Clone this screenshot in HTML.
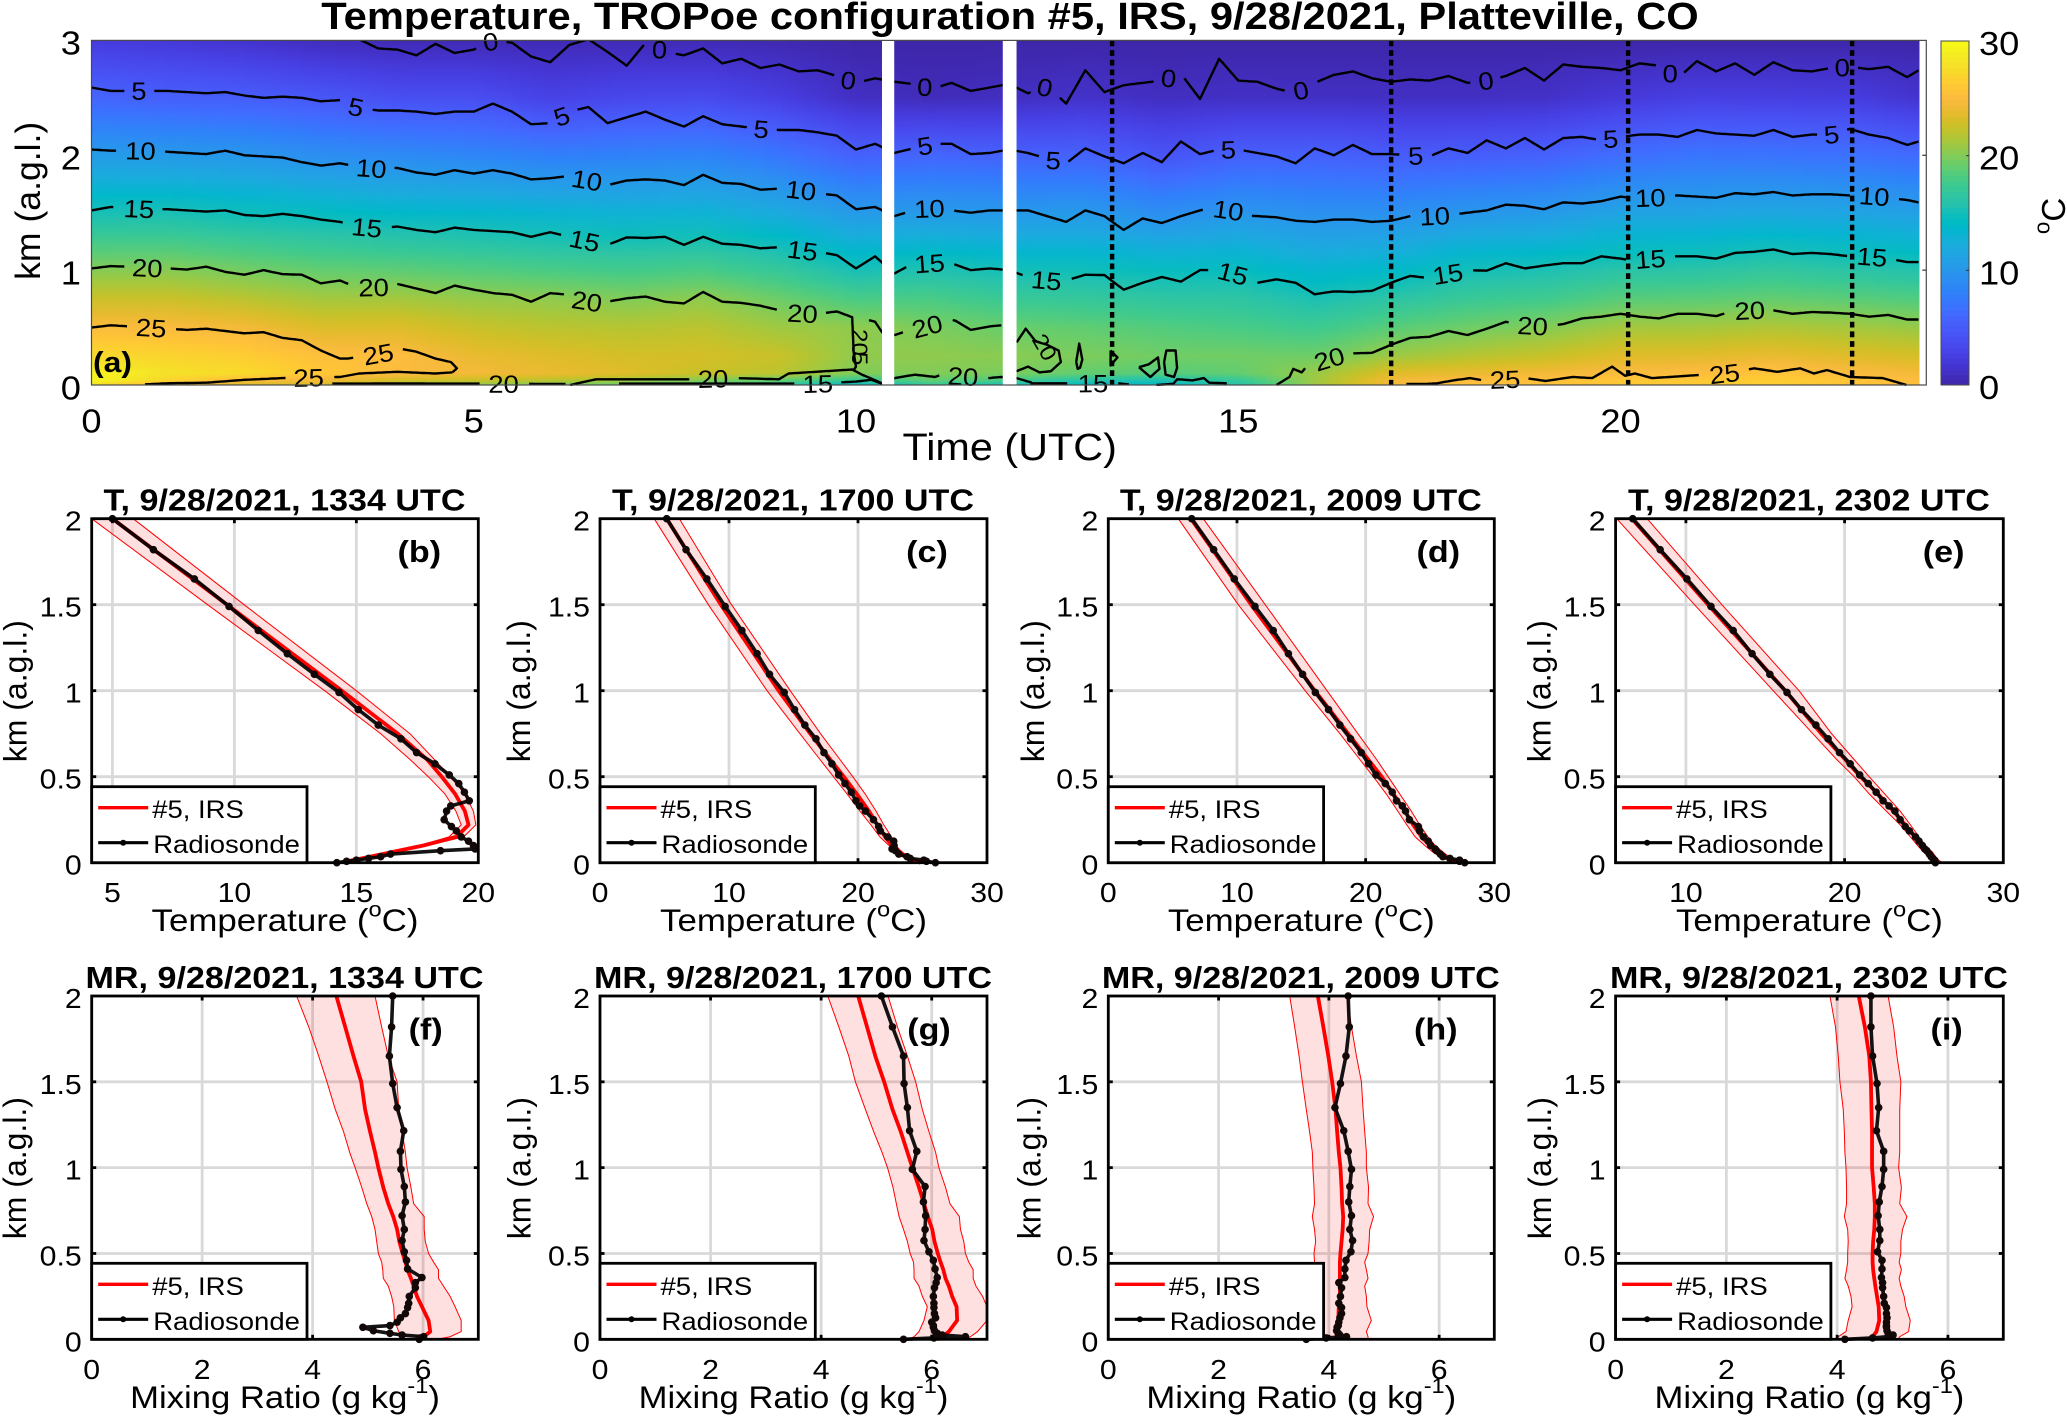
<!DOCTYPE html>
<html lang="en">
<head>
<meta charset="utf-8">
<title>Temperature, TROPoe configuration #5, IRS, 9/28/2021, Platteville, CO</title>
<style>
html,body{margin:0;padding:0;background:#fff;}
svg{display:block;}
text{font-family:"Liberation Sans",Arial,sans-serif;fill:#000;}
</style>
</head>
<body>
<svg id="chart" xmlns="http://www.w3.org/2000/svg" width="2067" height="1417" viewBox="0 0 2067 1417">
<defs id="defs"></defs>
<text transform="translate(1010,29) scale(1.103,1)" text-anchor="middle" font-size="37.8" font-weight="bold">Temperature, TROPoe configuration #5, IRS, 9/28/2021, Platteville, CO</text>
</svg>
<script>
/* ---------- panel (a): heat field ---------- */
const heatTimes = [0,1,2,3,4,5,6,7,8,9,10,11,12,13,14,15,16,17,18,19,20,21,22,23,24];
const heatHeights = [0,0.04,0.1,0.25,0.5,0.75,1,1.5,2,2.5,3];
const heatValues = [
[28,29.5,29.5,27.5,25,22.6,20.2,15.2,10.5,5.8,2.3],
[24.5,27,28,27,24.9,22.6,20.2,15.3,10.3,5.4,2],
[23,25,27.5,26.5,24.5,22,19.6,14.8,10,5.2,1.5],
[23,24.5,26,25.4,23.3,21.2,19,14.4,9.2,4.7,0.8],
[21,23,25,25.2,23.4,21.2,18.8,13.8,8.9,4,0.5],
[20.5,22.5,24.5,24,22.5,20.7,18.4,13.6,8.5,3.9,0.5],
[19.5,22,24,23.5,22,20.5,18,13.2,7.9,2.9,0.5],
[19,21,23.5,23,21.8,20,17.7,12.9,8.1,3.4,0.5],
[18,20,22.5,23,22,20.5,18,13,8.3,3.6,0.5],
[16.5,19,22,22.5,21,19.3,17,12,7.2,2.6,0.3],
[14,17,20,20.5,20.5,18,15.2,10.3,5.5,1.1,0],
[17,19,20,20.5,19.8,18,15.6,10.4,5.9,0.7,0],
[15,18,19.8,20.3,19.2,17.2,15,10.2,5.5,1,0],
[14,16,19,19.9,18.9,16.9,14.9,10.2,5.6,1.4,0],
[14,15.5,18.5,19.5,18.4,16.5,14.5,9.2,4.4,1,0],
[16,17,19,19.5,18,16.4,14.6,10,5.4,1.2,0],
[21,21,20.8,19.4,17.5,15.4,13.4,9.4,5.5,1.1,0],
[24.5,24.5,23.5,21,18.6,16.3,13.9,9.4,5.1,1.1,0],
[25.5,25.2,24,21.8,19.4,17.2,15,10,5.2,1.1,0],
[25.5,25.5,24.5,22.5,20.1,17.6,15.4,10.3,5.5,1.3,0],
[26,26,25,23.5,21.2,18.6,16.1,11.3,6.5,2.1,0],
[26.5,26,25.2,23.6,21.2,18.7,16.2,11.3,7.1,2.7,0],
[26.5,26.5,25.8,24,21.6,19,16.8,11.7,7,2.6,0],
[25.8,25.8,25,23.5,21.2,18.7,16.2,11.4,6.8,2.5,0],
[25,25,24.5,23,20.7,18.2,15.7,10.8,6.2,1.5,0]
];
const parula = [[.2422,.1504,.6603],[.2504,.1650,.7076],[.2578,.1818,.7511],[.2647,.1978,.7952],[.2706,.2147,.8364],[.2751,.2342,.8710],[.2783,.2559,.8991],[.2803,.2782,.9221],[.2813,.3006,.9414],[.2810,.3228,.9579],[.2795,.3447,.9717],[.2760,.3667,.9829],[.2699,.3892,.9906],[.2602,.4123,.9952],[.2440,.4358,.9988],[.2206,.4603,.9973],[.1963,.4847,.9892],[.1834,.5074,.9798],[.1786,.5289,.9682],[.1764,.5499,.9520],[.1687,.5703,.9359],[.1540,.5902,.9218],[.1460,.6091,.9079],[.1380,.6276,.8973],[.1246,.6459,.8883],[.1113,.6635,.8763],[.0952,.6798,.8598],[.0689,.6948,.8394],[.0297,.7082,.8163],[.0036,.7203,.7917],[.0067,.7312,.7660],[.0433,.7411,.7394],[.0964,.7500,.7120],[.1408,.7584,.6842],[.1717,.7670,.6554],[.1938,.7758,.6251],[.2161,.7843,.5923],[.2470,.7918,.5567],[.2906,.7973,.5188],[.3406,.8008,.4789],[.3909,.8029,.4354],[.4456,.8024,.3909],[.5044,.7993,.3480],[.5616,.7942,.3045],[.6174,.7876,.2612],[.6720,.7793,.2227],[.7242,.7698,.1910],[.7738,.7598,.1646],[.8203,.7498,.1535],[.8634,.7406,.1596],[.9035,.7330,.1774],[.9393,.7288,.2100],[.9728,.7298,.2394],[.9956,.7434,.2371],[.9970,.7659,.2199],[.9952,.7893,.2028],[.9892,.8136,.1885],[.9786,.8386,.1766],[.9676,.8639,.1643],[.9610,.8890,.1537],[.9597,.9135,.1423],[.9628,.9373,.1265],[.9691,.9606,.1064],[.9769,.9839,.0805]];

/* ---------- panel (a): contours ---------- */
const gridT = [0,.25,.5,.75,1,1.25,1.5,1.75,2,2.25,2.5,2.75,3,3.25,3.5,3.75,4,4.25,4.5,4.75,5,5.25,5.5,5.75,6,6.25,6.5,6.75,7,7.25,7.5,7.75,8,8.25,8.5,8.75,9,9.25,9.5,9.75,10,10.25,10.5,10.75,11,11.25,11.5,11.75,12,12.25,12.5,12.75,13,13.25,13.5,13.75,14,14.25,14.5,14.75,15,15.25,15.5,15.75,16,16.25,16.5,16.75,17,17.25,17.5,17.75,18,18.25,18.5,18.75,19,19.25,19.5,19.75,20,20.25,20.5,20.75,21,21.25,21.5,21.75,22,22.25,22.5,22.75,23,23.25,23.5,23.75,23.9];
const contour0 = [3.35,3.34,3.32,3.31,3.3,3.27,3.25,3.22,3.2,3.18,3.15,3.12,3.1,3.05,3.01,2.93,2.92,2.87,2.97,2.89,2.92,3.0,2.98,2.86,2.81,2.96,3.01,2.9,2.78,2.98,2.9,2.87,2.93,2.80,2.84,2.76,2.79,2.73,2.74,2.69,2.63,2.67,2.64,2.62,2.58,2.63,2.56,2.59,2.62,2.54,2.60,2.45,2.74,2.55,2.61,2.63,2.65,2.71,2.49,2.84,2.65,2.64,2.58,2.54,2.63,2.70,2.73,2.67,2.64,2.66,2.65,2.69,2.63,2.65,2.69,2.76,2.65,2.79,2.77,2.76,2.74,2.80,2.78,2.67,2.82,2.73,2.80,2.70,2.81,2.74,2.73,2.76,2.77,2.75,2.77,2.68,2.74];
const contour5 = [2.59,2.56,2.56,2.56,2.56,2.55,2.54,2.55,2.52,2.50,2.51,2.50,2.47,2.48,2.41,2.39,2.39,2.38,2.36,2.38,2.38,2.45,2.38,2.27,2.28,2.38,2.42,2.28,2.33,2.38,2.31,2.25,2.34,2.27,2.25,2.23,2.22,2.22,2.20,2.17,2.05,2.10,2.02,2.06,2.10,2.10,2.01,2.02,2.05,2.02,1.97,1.93,2.06,1.99,1.93,2.02,1.94,2.12,2.01,2.05,2.05,2.02,1.99,1.93,2.06,2.0,2.09,2.01,2.01,2.0,1.99,2.06,2.02,2.13,2.06,2.15,2.05,2.15,2.16,2.13,2.16,2.18,2.18,2.16,2.22,2.19,2.18,2.17,2.22,2.16,2.18,2.18,2.23,2.18,2.15,2.09,2.12];
const contour10 = [2.05,2.04,2.04,2.04,2.03,2.02,2.01,2.04,2.0,1.99,1.98,1.94,1.91,1.93,1.90,1.88,1.89,1.85,1.83,1.87,1.84,1.87,1.84,1.79,1.80,1.82,1.78,1.74,1.78,1.79,1.78,1.74,1.83,1.76,1.75,1.70,1.71,1.70,1.67,1.65,1.53,1.55,1.47,1.52,1.54,1.52,1.50,1.52,1.52,1.52,1.47,1.42,1.52,1.47,1.35,1.45,1.41,1.47,1.52,1.56,1.48,1.47,1.46,1.43,1.42,1.44,1.44,1.42,1.43,1.47,1.47,1.48,1.50,1.52,1.57,1.56,1.53,1.59,1.58,1.60,1.64,1.62,1.64,1.65,1.64,1.63,1.67,1.66,1.68,1.65,1.66,1.66,1.65,1.65,1.63,1.61,1.59];
const contour15 = [1.52,1.55,1.54,1.53,1.53,1.52,1.51,1.52,1.48,1.47,1.49,1.47,1.44,1.42,1.38,1.36,1.38,1.35,1.33,1.37,1.35,1.34,1.33,1.29,1.33,1.29,1.25,1.22,1.285,1.28,1.29,1.22,1.29,1.23,1.22,1.19,1.20,1.175,1.16,1.13,1.015,1.12,.97,1.06,1.06,1.06,1.0,1.015,1.0,.94,.91,.91,.96,.957,.83,.89,.94,.90,1.0,1.0,.96,.89,.92,.89,.79,.815,.81,.82,.89,.95,.93,.97,1.0,.995,1.06,1.015,1.04,1.06,1.06,1.12,1.10,1.07,1.12,1.12,1.12,1.10,1.15,1.16,1.18,1.14,1.15,1.14,1.12,1.12,1.10,1.07,1.07];
const c20LeftT = [0,.25,.5,.75,1,1.25,1.5,1.75,2,2.25,2.5,2.75,3,3.25,3.5,3.75,4,4.25,4.5,4.75,5,5.25,5.5,5.75,6,6.25,6.5,6.75,7,7.25,7.5,7.75,8,8.25,8.5,8.75,9,9.25,9.5,9.75,9.95,9.97,10,9.97];
const c20LeftZ = [1.015,1.035,1.03,1.02,1.015,1.005,1.03,.985,.96,1.0,.965,.96,.885,.91,.84,.855,.88,.84,.80,.865,.83,.80,.785,.725,.80,.785,.725,.725,.755,.77,.725,.71,.81,.725,.715,.69,.65,.625,.62,.64,.59,.28,.16,.13];
const c20MidT = [10.17,10.25,10.34,10.51,10.75,11,11.16,11.3,11.5,11.75,11.9];
const c20MidZ = [.565,.55,.46,.435,.49,.52,.58,.56,.48,.51,.52];
const c20RightT = [15.5,15.67,15.72,15.83,15.92,16.2,16.47,16.75,17,17.25,17.5,17.75,18,18.25,18.5,18.75,19,19.25,19.5,19.75,20,20.25,20.5,20.75,21,21.25,21.5,21.75,22,22.25,22.5,22.75,23,23.25,23.5,23.75,23.9];
const c20RightZ = [0,.07,.14,.11,.18,.23,.275,.28,.35,.41,.42,.47,.435,.49,.55,.52,.51,.53,.58,.595,.62,.595,.58,.62,.62,.60,.65,.65,.65,.62,.635,.63,.62,.595,.61,.57,.57];
const c20LowT = [6.26,6.6,7.5,7.82,8.43,8.99,9.12,9.95,10.08,10.34,10.51,10.77,11.03,11.12,11.73,11.9,12.1,12.3];
const c20LowZ = [0,.05,.05,.05,.06,.05,.10,.135,.09,.015,.06,.09,.07,.09,.06,.07,.06,.02];
const c20SurfT = [3.15,4,5,5.8,6.2];
const c20SurfZ = [.012,.013,.012,.01,.01];
const c20LoopT = [12.1,12.22,12.35,12.5,12.65,12.68,12.55,12.4,12.25,12.1];
const c20LoopZ = [.37,.49,.38,.35,.30,.2,.12,.11,.16,.12];
const blob1T = [12.88,12.92,12.96,12.93,12.9,12.88];
const blob1Z = [.2,.36,.22,.15,.14,.2];
const blob2T = [13.33,13.33,13.42,13.33];
const blob2Z = [.3,.17,.24,.3];
const blob3T = [13.7,13.83,13.95,13.97,13.85,13.7];
const blob3Z = [.155,.18,.24,.14,.07,.155];
const blob4T = [14.03,14.06,14.18,14.2,14.16,14.05,14.03];
const blob4Z = [.2,.3,.3,.15,.07,.09,.2];
const c15SurfT = [6.9,8,9,9.5,10,10.2,10.34];
const c15SurfZ = [.012,.012,.012,.012,.03,.045,.012];
const c15RightT = [12.28,12.8,13.1,13.36,13.57];
const c15RightZ = [.015,.015,.015,.02,.005];
const c15FarT = [13.93,14.15,14.2,14.4,14.55,14.62,14.85];
const c15FarZ = [0,.01,.05,.04,.06,.02,.015];
const c25TopT = [0,.25,.5,.75,1,1.25,1.5,1.75,2,2.25,2.5,2.75,3,3.25,3.35,3.75,4,4.25,4.5,4.7,4.78,4.72];
const c25TopZ = [.5,.52,.51,.5,.49,.48,.49,.47,.45,.46,.41,.39,.30,.23,.23,.27,.32,.29,.23,.2,.145,.11];
const c25BotT = [4.72,4.5,4,3.5,3.25,2.84,2.5,2,1.5,1,.7];
const c25BotZ = [.11,.10,.115,.10,.07,.065,.06,.045,.02,.015,.006];
const c25RightT = [17.2,17.47,17.6,17.81,18.03,18.25,18.49,18.76,19.02,19.37,19.63,19.89,20.06,20.19,20.41,21.1,21.36,21.75,22.05,22.35,22.53,22.7,23,23.43,23.74];
const c25RightZ = [.01,.01,.015,.04,.06,.035,.05,.06,.035,.07,.06,.16,.08,.10,.06,.09,.1,.145,.115,.145,.10,.13,.07,.06,0];

const labels0 = [5.22,7.43,9.9,10.9,12.47,14.09,15.82,18.24,20.65,22.9];
const labels5 = [.62,3.46,6.15,8.76,10.9,12.58,14.87,17.32,19.87,22.76];
const labels10 = [.64,3.66,6.48,9.28,10.96,14.87,17.57,20.39,23.32];
const labels15 = [.62,3.6,6.45,9.3,10.96,12.49,14.93,17.74,20.39,23.29];
const labels20Left = [.73,3.69,6.48,9.3];
const labels20Mid = [10.93];
const labels20Right = [16.19,18.85,21.69];
const labels20Low = [8.13,11.4];
const labels20Surf = [5.39];
const labels15Surf = [9.5];
const labels15Right = [13.1];
const labels25Top = [.78,3.75];
const labels25Bot = [2.84];
const labels25Right = [18.49,21.36];
const extraLabelTexts = ['20','5','20'];
const extraLabelTimes = [10.05,10.05,12.47];
const extraLabelHeights = [.37,.23,.33];
const extraLabelAngles = [90,90,60];

const gapStarts = [10.34,11.92];
const gapEnds = [10.5,12.1];
const soundingTimes = [13.35,17.0,20.1,23.03];
const timeTicks = [0,5,10,15,20];
const heightTicks = [0,1,2,3];
const colorTicks = [0,10,20,30];

/* ---------- profile panels ---------- */
const sondeHeights = [2,1.82,1.65,1.49,1.35,1.215,1.095,.99,.89,.80,.72,.64,.575,.51,.46,.41,.36,.33,.30,.25,.21,.185,.15,.125,.1,.08,.07,.05,.035,.025,.015,.008,0];
const irsHeights = [2,1.5,1,.75,.6,.5,.4,.3,.22,.15,.1,.06,.03,.01,0];
const mrHeights = [2,1.82,1.65,1.5,1.34,1.21,1.09,1,.885,.79,.715,.64,.57,.5,.45,.405,.355,.31,.25,.19,.11,.045,.015,0];

const sondeTempB = [5,6.68,8.36,9.78,10.98,12.17,13.28,14.29,15.08,15.9,16.83,17.47,18.22,18.81,19.2,19.43,19.63,18.87,18.7,18.6,18.9,19.1,19.3,19.6,19.8,19.87,18.45,16.4,16,15.5,15,14.6,14.2];
const meanTempB = [5,9.7,14.4,16.7,17.9,18.5,19.05,19.45,19.6,19.1,17.75,16.4,15.4,14.7,14.55];
const lowTempB = [4.15,8.9,13.7,16,17.2,17.95,18.63,19.08,19.3,18.8,17.6,16.2,15.2,14.6,14.35];
const highTempB = [5.85,10.4,15,17.2,18.2,18.85,19.45,19.8,19.9,19.4,17.9,16.5,15.55,14.9,14.75];

const sondeTempC = [5.17,6.67,8.28,9.7,11,12.18,13.14,14.28,15.08,15.88,16.74,17.36,17.98,18.5,18.99,19.48,19.84,20.13,20.57,21.2,21.6,21.73,22.3,22.77,22.8,22.64,22.9,23.16,23.8,24.05,25.1,25.3,26];
const meanTempC = [5.17,9.37,13.85,16.3,17.85,18.9,19.9,20.85,21.5,22.1,22.65,23.3,23.8,24.45,24.85];
const lowTempC = [4.2,8.4,12.95,15.5,17.05,18.1,19.15,20.15,21.0,21.7,22.4,22.9,23.55,24.2,24.6];
const highTempC = [6.15,10.2,14.75,17.1,18.6,19.6,20.55,21.4,22,22.6,22.95,23.4,24.05,24.7,25.1];

const sondeTempD = [6.48,8.19,9.79,11.4,12.82,14,15.1,16.09,17.12,18,18.83,19.66,20.23,20.8,21.53,22.07,22.4,22.85,23.1,23.4,24.1,24.2,24.5,24.87,25.05,25.4,25.5,25.8,26,26.55,27.3,27.3,27.7];
const meanTempD = [6.42,11.1,16.05,18.65,20.2,21.25,22.15,23.05,23.7,24.35,25,25.65,26.15,26.8,27.3];
const lowTempD = [5.44,10.1,15.3,18,19.55,20.6,21.6,22.5,23.2,23.85,24.6,25.25,25.9,26.65,27.05];
const highTempD = [7.38,12.2,17,19.4,20.85,21.75,22.65,23.55,24.2,24.85,25.4,26.05,26.55,27.2,27.6];

const sondeTempE = [6.65,8.38,10.06,11.58,12.98,14.17,15.29,16.37,17.28,18.19,18.96,19.68,20.35,20.95,21.49,21.99,22.42,22.8,23.17,23.5,23.82,24.08,24.47,24.69,24.9,25.05,25.18,25.34,25.45,25.56,25.67,25.7,25.72];
const meanTempE = [6.6,11.4,16.26,18.53,20.04,21,22.1,23.07,23.82,24.47,24.9,25.34,25.55,25.77,25.87];
const lowTempE = [5.64,10.54,15.5,18,19.5,20.6,21.55,22.63,23.5,24.15,24.6,25,25.34,25.55,25.66];
const highTempE = [7.56,12.27,17.13,19.18,20.6,21.55,22.53,23.5,24.15,24.69,25.1,25.55,25.77,26,26.2];

const sondeMrF = [5.45,5.43,5.39,5.45,5.53,5.65,5.59,5.6,5.66,5.68,5.62,5.66,5.62,5.66,5.7,5.72,5.98,5.86,5.86,5.75,5.74,5.72,5.68,5.59,5.53,5.4,4.91,5.1,5.4,5.62,6.01,5.95,5.93];
const meanMrF = [4.43,4.59,4.74,4.88,4.95,5.04,5.13,5.19,5.28,5.37,5.46,5.53,5.57,5.63,5.68,5.72,5.78,5.83,5.89,5.98,6.1,6.13,6.01,5.89];
const lowMrF = [3.71,3.93,4.11,4.26,4.41,4.56,4.67,4.77,4.89,4.98,5.07,5.13,5.16,5.19,5.25,5.27,5.28,5.37,5.43,5.47,5.48,5.56,5.62,5.53];
const highMrF = [5.13,5.25,5.37,5.53,5.56,5.62,5.68,5.71,5.78,5.83,6.02,6.02,6.04,6.1,6.19,6.28,6.28,6.37,6.49,6.58,6.69,6.69,6.49,6.25];

const sondeMrG = [5.09,5.29,5.49,5.5,5.56,5.6,5.73,5.65,5.88,5.85,5.89,5.88,5.86,5.95,6.03,6.06,6.1,6.08,6.05,6.03,6.04,6.04,6.05,6.07,6,6.03,6.03,6.05,6.1,6.19,6.61,6.04,5.49];
const meanMrG = [4.67,4.83,4.98,5.14,5.29,5.44,5.56,5.65,5.77,5.86,5.93,6.01,6.05,6.11,6.16,6.21,6.25,6.31,6.37,6.45,6.46,6.31,6.19,6.1];
const lowMrG = [4.12,4.32,4.5,4.62,4.8,4.95,5.1,5.2,5.3,5.36,5.41,5.49,5.56,5.61,5.67,5.68,5.68,5.77,5.83,5.92,5.86,5.77,5.68,5.59];
const highMrG = [5.21,5.38,5.56,5.71,5.83,5.95,6.07,6.13,6.25,6.33,6.5,6.52,6.58,6.61,6.67,6.75,6.75,6.8,6.92,7,7,6.83,6.7,6.61];

const sondeMrH = [4.35,4.37,4.31,4.21,4.11,4.27,4.35,4.41,4.38,4.36,4.41,4.38,4.43,4.4,4.31,4.29,4.29,4.18,4.23,4.21,4.18,4.23,4.23,4.2,4.18,4.17,4.15,4.14,4.17,4.2,4.32,3.95,3.59];
const meanMrH = [3.8,3.9,3.99,4.06,4.12,4.15,4.18,4.21,4.23,4.24,4.26,4.25,4.23,4.21,4.2,4.2,4.2,4.2,4.2,4.18,4.17,4.14,4.14,4.11];
const lowMrH = [3.29,3.38,3.46,3.52,3.59,3.65,3.7,3.71,3.73,3.74,3.7,3.74,3.76,3.73,3.74,3.74,3.74,3.74,3.77,3.8,3.83,3.86,3.92,3.93];
const highMrH = [4.33,4.41,4.5,4.59,4.62,4.65,4.68,4.68,4.72,4.71,4.81,4.74,4.73,4.71,4.65,4.68,4.71,4.65,4.68,4.69,4.77,4.68,4.71,4.71];

const sondeMrI = [4.61,4.61,4.64,4.72,4.75,4.71,4.84,4.84,4.81,4.76,4.74,4.77,4.77,4.73,4.81,4.81,4.8,4.82,4.82,4.84,4.85,4.89,4.89,4.9,4.89,4.89,4.89,4.9,4.92,5.01,4.92,4.64,4.14];
const meanMrI = [4.39,4.5,4.58,4.61,4.62,4.63,4.63,4.63,4.66,4.68,4.68,4.67,4.65,4.64,4.64,4.65,4.67,4.69,4.72,4.75,4.76,4.71,4.64,4.58];
const lowMrI = [3.87,3.97,4.02,4.05,4.11,4.13,4.14,4.16,4.17,4.17,4.13,4.19,4.2,4.19,4.19,4.17,4.14,4.2,4.25,4.27,4.2,4.16,4.02,3.98];
const highMrI = [4.92,5.02,5.08,5.15,5.13,5.13,5.13,5.11,5.16,5.13,5.26,5.18,5.15,5.15,5.12,5.16,5.12,5.15,5.21,5.24,5.32,5.29,5.13,5.1];

const profileHeightTicks = [0,0.5,1,1.5,2];
const tempTicksB = [5,10,15,20];
const tempTicksC = [0,10,20,30];
const tempTicksE = [10,20,30];
const mrTicks = [0,2,4,6];

/* ---------- drawing ---------- */
const NS = 'http://www.w3.org/2000/svg';
const svg = document.getElementById('chart');
const defs = document.getElementById('defs');
function mk(tag, attrs, name, parent){
  const el = document.createElementNS(NS, tag);
  for (const k in attrs) el.setAttribute(k, attrs[k]);
  
  
  (parent || svg).appendChild(el);
  return el;
}
const SX = 1.1;
function txt(x, y, parts, size, name, opts){
  opts = opts || {};
  const t = mk('text', {
    transform: 'translate(' + x + ',' + y + ')' + (opts.rot ? ' rotate(' + opts.rot + ')' : '') + (opts.noStretch ? '' : ' scale(' + SX + ',1)'),
    'text-anchor': opts.anchor || 'middle',
    'font-size': size
  }, name, opts.parent);
  if (opts.bold) t.setAttribute('font-weight', 'bold');
  if (opts.dy) t.setAttribute('dy', opts.dy);
  if (typeof parts === 'string') { t.textContent = parts; return t; }
  let raised = 0;
  parts.forEach(function(p){
    const s = document.createElementNS(NS, 'tspan');
    if (typeof p === 'object') {
      raised = size * 0.47;
      s.setAttribute('font-size', size * 0.68);
      s.setAttribute('dy', -raised);
      s.textContent = p.raised;
    } else {
      if (raised) { s.setAttribute('dy', raised); raised = 0; }
      s.textContent = p;
    }
    t.appendChild(s);
  });
  return t;
}

/* axis functions for panel (a) */
const xTime = t => 91.5 + 76.45 * t;
const yKm = z => 385 - 114.87 * z;
function colorFor(v){
  const f = Math.max(0, Math.min(1, v / 30)) * 63;
  const i = Math.min(62, Math.floor(f)), w = f - i;
  const c = parula[i].map((a, k) => Math.round(255 * (a + (parula[i + 1][k] - a) * w)));
  return 'rgb(' + c.join(',') + ')';
}
function bracket(arr, v){
  let i = 0;
  while (i < arr.length - 2 && arr[i + 1] <= v) i++;
  return [i, Math.max(0, Math.min(1, (v - arr[i]) / (arr[i + 1] - arr[i])))];
}
function heatAt(t, z){
  const [i, a] = bracket(heatTimes, t);
  const [j, b] = bracket(heatHeights, z);
  const top = heatValues[i][j] * (1 - b) + heatValues[i][j + 1] * b;
  const bot = heatValues[i + 1][j] * (1 - b) + heatValues[i + 1][j + 1] * b;
  return top * (1 - a) + bot * a;
}
const stopHeights = [0,.02,.04,.07,.1,.15,.2,.25,.3,.4,.5,.6,.75,.9,1,1.15,1.3,1.5,1.65,1.8,2,2.2,2.35,2.5,2.7,2.85,3];
const heatGroup = mk('g', {'shape-rendering': 'crispEdges'}, 'temperature-heatmap');
const heatEnd = 23.9, heatStep = 0.08;
let colIndex = 0;
for (let t = 0; t < heatEnd; t += heatStep) {
  const g = document.createElementNS(NS, 'linearGradient');
  g.setAttribute('id', 'hc' + colIndex);
  g.setAttribute('gradientUnits', 'userSpaceOnUse');
  g.setAttribute('x1', 0); g.setAttribute('x2', 0);
  g.setAttribute('y1', yKm(0)); g.setAttribute('y2', yKm(3));
  stopHeights.forEach(function(z){
    const s = document.createElementNS(NS, 'stop');
    s.setAttribute('offset', z / 3);
    s.setAttribute('stop-color', colorFor(heatAt(t + heatStep / 2, z)));
    g.appendChild(s);
  });
  defs.appendChild(g);
  const x0 = xTime(t), x1 = xTime(Math.min(heatEnd, t + heatStep));
  mk('rect', {x: x0, y: yKm(3), width: x1 - x0 + 0.6, height: yKm(0) - yKm(3), fill: 'url(#hc' + colIndex + ')'}, 'heatmap-column', heatGroup);
  colIndex++;
}

/* contour lines */
const contours = [
  {lvl:'0', T:gridT, Z:contour0, L:labels0},
  {lvl:'5', T:gridT, Z:contour5, L:labels5},
  {lvl:'10', T:gridT, Z:contour10, L:labels10},
  {lvl:'15', T:gridT, Z:contour15, L:labels15},
  {lvl:'20', T:c20LeftT, Z:c20LeftZ, L:labels20Left},
  {lvl:'20', T:c20MidT, Z:c20MidZ, L:labels20Mid},
  {lvl:'20', T:c20RightT, Z:c20RightZ, L:labels20Right},
  {lvl:'20', T:c20LowT, Z:c20LowZ, L:labels20Low},
  {lvl:'20', T:c20SurfT, Z:c20SurfZ, L:labels20Surf},
  {lvl:'20', T:c20LoopT, Z:c20LoopZ, L:[]},
  {lvl:'20', T:blob1T, Z:blob1Z, L:[]},
  {lvl:'20', T:blob2T, Z:blob2Z, L:[]},
  {lvl:'20', T:blob3T, Z:blob3Z, L:[]},
  {lvl:'20', T:blob4T, Z:blob4Z, L:[]},
  {lvl:'15', T:c15SurfT, Z:c15SurfZ, L:labels15Surf},
  {lvl:'15', T:c15RightT, Z:c15RightZ, L:labels15Right},
  {lvl:'15', T:c15FarT, Z:c15FarZ, L:[]},
  {lvl:'25', T:c25TopT, Z:c25TopZ, L:labels25Top},
  {lvl:'25', T:c25BotT, Z:c25BotZ, L:labels25Bot},
  {lvl:'25', T:c25RightT, Z:c25RightZ, L:labels25Right}
];
function zOnLine(T, Z, t){
  for (let i = 0; i < T.length - 1; i++) {
    const a = T[i], b = T[i + 1];
    if ((a <= t && t <= b) || (b <= t && t <= a)) {
      const w = b === a ? 0 : (t - a) / (b - a);
      return Z[i] + (Z[i + 1] - Z[i]) * w;
    }
  }
  return null;
}
const clipA = document.createElementNS(NS, 'clipPath');
clipA.setAttribute('id', 'clip-a');
const clipRect = document.createElementNS(NS, 'rect');
clipRect.setAttribute('x', xTime(0));
clipRect.setAttribute('y', yKm(3));
clipRect.setAttribute('width', xTime(heatEnd) - xTime(0));
clipRect.setAttribute('height', yKm(0) - yKm(3) + 1);
clipA.appendChild(clipRect);
defs.appendChild(clipA);
const contourGroup = mk('g', {'clip-path': 'url(#clip-a)'}, 'contour-lines');
const labelGroup = mk('g', {}, 'contour-labels');
contours.forEach(function(c){
  const marks = c.L.map(function(t){
    const z = zOnLine(c.T, c.Z, t);
    const zA = zOnLine(c.T, c.Z, t - 0.3), zB = zOnLine(c.T, c.Z, t + 0.3);
    let rot = 0;
    if (zA !== null && zB !== null) {
      rot = Math.atan2(yKm(zB) - yKm(zA), xTime(t + 0.3) - xTime(t - 0.3)) * 180 / Math.PI;
      rot = Math.max(-35, Math.min(35, rot));
    }
    return {x: xTime(t), y: yKm(z === null ? 0 : z), rot: rot};
  });
  const halfW = c.lvl.length > 1 ? 23 : 14;
  let d = '', pen = false;
  for (let i = 0; i < c.T.length - 1; i++) {
    const x0 = xTime(c.T[i]), y0 = yKm(c.Z[i]), x1 = xTime(c.T[i + 1]), y1 = yKm(c.Z[i + 1]);
    const n = Math.max(1, Math.ceil(Math.hypot(x1 - x0, y1 - y0) / 3));
    for (let k = 0; k <= n; k++) {
      const x = x0 + (x1 - x0) * k / n, y = y0 + (y1 - y0) * k / n;
      const hidden = marks.some(m => Math.abs(x - m.x) < halfW && Math.abs(y - m.y) < 20);
      if (hidden) { pen = false; continue; }
      if (k === 0 && pen) continue;
      d += (pen ? 'L' : 'M') + x.toFixed(1) + ' ' + y.toFixed(1);
      pen = true;
    }
  }
  mk('path', {d: d, fill: 'none', stroke: '#000', 'stroke-width': 2.4, 'stroke-linejoin': 'round'}, 'contour-' + c.lvl, contourGroup);
  marks.forEach(function(m){
    txt(m.x, m.y, c.lvl, 25, 'contour-label-' + c.lvl, {rot: m.rot.toFixed(1), dy: '0.36em', parent: labelGroup});
  });
});
extraLabelTexts.forEach(function(s, i){
  txt(xTime(extraLabelTimes[i]), yKm(extraLabelHeights[i]), s, 22, 'contour-label-' + s, {rot: extraLabelAngles[i], dy: '0.36em', parent: labelGroup});
});

/* data gaps */
gapStarts.forEach(function(s, i){
  mk('rect', {x: xTime(s), y: yKm(3) - 0.5, width: xTime(gapEnds[i]) - xTime(s), height: yKm(0) - yKm(3) + 1.5, fill: '#fff'}, 'data-gap');
});
/* sounding markers */
soundingTimes.forEach(function(t){
  mk('line', {x1: xTime(t), x2: xTime(t), y1: yKm(3), y2: yKm(0), stroke: '#000', 'stroke-width': 4.4, 'stroke-dasharray': '5.8 3.9'}, 'sounding-time-marker');
});
/* axes of panel (a) */
mk('rect', {x: xTime(0), y: yKm(3), width: xTime(24) - xTime(0), height: yKm(0) - yKm(3), fill: 'none', stroke: '#4a4a4a', 'stroke-width': 1.2}, 'panel-a-frame');
timeTicks.forEach(function(t){
  txt(xTime(t), 432.5, String(t), 33, 'time-tick-label');
});
heightTicks.forEach(function(z){
  txt(81, yKm(z) + 14.3, String(z), 33, 'height-tick-label', {anchor: 'end'});
  if (z > 0 && z < 3) mk('line', {x1: xTime(24) - 4, x2: xTime(24), y1: yKm(z), y2: yKm(z), stroke: '#333', 'stroke-width': 1.2}, 'height-tick');
});
txt(40, 200.8, 'km (a.g.l.)', 35.6, 'panel-a-y-axis-title', {rot: -90, noStretch: true});
txt(1009.7, 460, 'Time (UTC)', 37.6, 'panel-a-x-axis-title');
txt(93, 372, '(a)', 29, 'panel-a-letter', {anchor: 'start', bold: true});

/* colorbar */
const yColor = v => 385 - (344 / 30) * v;
const barGroup = mk('g', {'shape-rendering': 'crispEdges'}, 'colorbar');
for (let i = 0; i < 64; i++) {
  const v0 = i * 30 / 64, v1 = (i + 1) * 30 / 64;
  mk('rect', {x: 1941, y: yColor(v1), width: 28, height: yColor(v0) - yColor(v1) + 0.5, fill: colorFor((v0 + v1) / 2)}, 'colorbar-cell', barGroup);
}
mk('rect', {x: 1941, y: yColor(30), width: 28, height: 344, fill: 'none', stroke: '#4a4a4a', 'stroke-width': 1}, 'colorbar-frame');
colorTicks.forEach(function(v){
  txt(1979, yColor(v) + 14, String(v), 33, 'colorbar-tick-label', {anchor: 'start'});
  if (v > 0 && v < 30) mk('line', {x1: 1966, x2: 1969, y1: yColor(v), y2: yColor(v), stroke: '#333', 'stroke-width': 1}, 'colorbar-tick');
});
txt(2065, 216, [{raised: 'o'}, 'C'], 33, 'colorbar-title', {rot: -90, noStretch: true});

/* profile panels */
const panelTitlesT = ['T, 9/28/2021, 1334 UTC','T, 9/28/2021, 1700 UTC','T, 9/28/2021, 2009 UTC','T, 9/28/2021, 2302 UTC'];
const panelTitlesMr = ['MR, 9/28/2021, 1334 UTC','MR, 9/28/2021, 1700 UTC','MR, 9/28/2021, 2009 UTC','MR, 9/28/2021, 2302 UTC'];
const lefts = [91.7,600,1108.3,1615.6];
const rights = [478.3,987,1494.3,2003.3];
const yTitleXT = [26.7,530,1044,1550.5];
const yTitleXM = [26,530.7,1040.7,1551];
const tempPanels = [
  {letter:'(b)', dx:327.6, xlim:[4.15,20], ticks:tempTicksB, sonde:sondeTempB, mean:meanTempB, low:lowTempB, high:highTempB},
  {letter:'(c)', dx:327, xlim:[0,30], ticks:tempTicksC, sonde:sondeTempC, mean:meanTempC, low:lowTempC, high:highTempC},
  {letter:'(d)', dx:330, xlim:[0,30], ticks:tempTicksC, sonde:sondeTempD, mean:meanTempD, low:lowTempD, high:highTempD},
  {letter:'(e)', dx:328, xlim:[5.57,30], ticks:tempTicksE, sonde:sondeTempE, mean:meanTempE, low:lowTempE, high:highTempE}
];
const mrPanels = [
  {letter:'(f)', dx:334, xlim:[0,7], ticks:mrTicks, sonde:sondeMrF, mean:meanMrF, low:lowMrF, high:highMrF},
  {letter:'(g)', dx:329, xlim:[0,7], ticks:mrTicks, sonde:sondeMrG, mean:meanMrG, low:lowMrG, high:highMrG},
  {letter:'(h)', dx:327.5, xlim:[0,7], ticks:mrTicks, sonde:sondeMrH, mean:meanMrH, low:lowMrH, high:highMrH},
  {letter:'(i)', dx:331, xlim:[0,7], ticks:mrTicks, sonde:sondeMrI, mean:meanMrI, low:lowMrI, high:highMrI}
];
function poly(xs, zs, xf, yf){
  return xs.map((v, i) => xf(v).toFixed(2) + ',' + yf(zs[i]).toFixed(2)).join(' ');
}
function drawPanel(p, col, top, bottom, irsZ, title, xLabel, labelSize, yTitleX, prefix){
  const left = lefts[col], right = rights[col];
  const xf = v => left + (v - p.xlim[0]) / (p.xlim[1] - p.xlim[0]) * (right - left);
  const yf = z => bottom - z / 2 * (bottom - top);
  const g = mk('g', {}, prefix + '-panel');
  mk('rect', {x: left, y: top, width: right - left, height: bottom - top, fill: '#fff'}, 'plot-background', g);
  p.ticks.forEach(function(v){
    mk('line', {x1: xf(v), x2: xf(v), y1: top, y2: bottom, stroke: '#d9d9d9', 'stroke-width': 2.8}, 'x-gridline', g);
  });
  profileHeightTicks.forEach(function(z){
    mk('line', {x1: left, x2: right, y1: yf(z), y2: yf(z), stroke: '#d9d9d9', 'stroke-width': 2.8}, 'y-gridline', g);
  });
  const band = poly(p.low, irsZ, xf, yf) + ' ' + poly(p.high.slice().reverse(), irsZ.slice().reverse(), xf, yf);
  mk('polygon', {points: band, fill: '#ff0000', 'fill-opacity': 0.12, stroke: 'none'}, 'irs-uncertainty-band', g);
  mk('polyline', {points: poly(p.low, irsZ, xf, yf), fill: 'none', stroke: '#f00', 'stroke-width': 1}, 'irs-lower-bound', g);
  mk('polyline', {points: poly(p.high, irsZ, xf, yf), fill: 'none', stroke: '#f00', 'stroke-width': 1}, 'irs-upper-bound', g);
  mk('polyline', {points: poly(p.mean, irsZ, xf, yf), fill: 'none', stroke: '#f00', 'stroke-width': 3.8, 'stroke-linejoin': 'round'}, 'irs-retrieval-line', g);
  mk('polyline', {points: poly(p.sonde, sondeHeights, xf, yf), fill: 'none', stroke: '#000', 'stroke-width': 3.6, 'stroke-linejoin': 'round', 'stroke-opacity': 0.92}, 'radiosonde-line', g);
  p.sonde.forEach(function(v, i){
    mk('circle', {cx: xf(v), cy: yf(sondeHeights[i]), r: 3.8, fill: '#120808'}, 'radiosonde-point', g);
  });
  mk('rect', {x: left, y: top, width: right - left, height: bottom - top, fill: 'none', stroke: '#000', 'stroke-width': 2.8}, 'plot-frame', g);
  p.ticks.forEach(function(v){
    if (v > p.xlim[0] && v < p.xlim[1]) {
      mk('line', {x1: xf(v), x2: xf(v), y1: bottom, y2: bottom - 4.5, stroke: '#000', 'stroke-width': 2.8}, 'x-tick', g);
      mk('line', {x1: xf(v), x2: xf(v), y1: top, y2: top + 4.5, stroke: '#000', 'stroke-width': 2.8}, 'x-tick', g);
    }
    txt(xf(v), bottom + 39.5, String(v), 27.5, 'x-tick-label', {parent: g});
  });
  profileHeightTicks.forEach(function(z){
    if (z > 0 && z < 2) {
      mk('line', {x1: left, x2: left + 4.5, y1: yf(z), y2: yf(z), stroke: '#000', 'stroke-width': 2.8}, 'y-tick', g);
      mk('line', {x1: right, x2: right - 4.5, y1: yf(z), y2: yf(z), stroke: '#000', 'stroke-width': 2.8}, 'y-tick', g);
    }
    txt(left - 10, yf(z) + 12, String(z), 27.5, 'y-tick-label', {anchor: 'end', parent: g});
  });
  /* legend */
  const lg = mk('g', {}, 'legend', g);
  mk('rect', {x: left, y: bottom - 76, width: 215.3, height: 76, fill: '#fff', stroke: '#000', 'stroke-width': 2.8}, 'legend-box', lg);
  mk('line', {x1: left + 6.5, x2: left + 56.5, y1: bottom - 55, y2: bottom - 55, stroke: '#f00', 'stroke-width': 3.4}, 'legend-irs-swatch', lg);
  mk('line', {x1: left + 6.5, x2: left + 56.5, y1: bottom - 20, y2: bottom - 20, stroke: '#000', 'stroke-width': 3.2}, 'legend-radiosonde-swatch', lg);
  mk('circle', {cx: left + 31.5, cy: bottom - 20, r: 3, fill: '#000'}, 'legend-radiosonde-marker', lg);
  txt(left + 60.5, bottom - 44.5, '#5, IRS', 25, 'legend-irs-label', {anchor: 'start', parent: lg});
  txt(left + 61.5, bottom - 9.5, 'Radiosonde', 25, 'legend-radiosonde-label', {anchor: 'start', parent: lg});
  /* titles */
  txt((left + right) / 2 - 0.5, top - 8, title, 31, 'panel-title', {bold: true, parent: g});
  txt(yTitleX, (top + bottom) / 2 + 0.5, 'km (a.g.l.)', 32, 'y-axis-title', {rot: -90, noStretch: true, parent: g});
  txt((left + right) / 2, bottom + 68.5, xLabel, labelSize, 'x-axis-title', {parent: g});
  txt(left + p.dx, top + 43.5, p.letter, 31, 'panel-letter', {bold: true, parent: g});
}
tempPanels.forEach(function(p, i){
  drawPanel(p, i, 518.7, 862.7, irsHeights, panelTitlesT[i], ['Temperature (', {raised: 'o'}, 'C)'], 31.7, yTitleXT[i], 'temperature-profile');
});
mrPanels.forEach(function(p, i){
  drawPanel(p, i, 996, 1339.3, mrHeights, panelTitlesMr[i], ['Mixing Ratio (g kg', {raised: '-1'}, ')'], 31.5, yTitleXM[i], 'mixing-ratio-profile');
});
</script>
</body>
</html>
